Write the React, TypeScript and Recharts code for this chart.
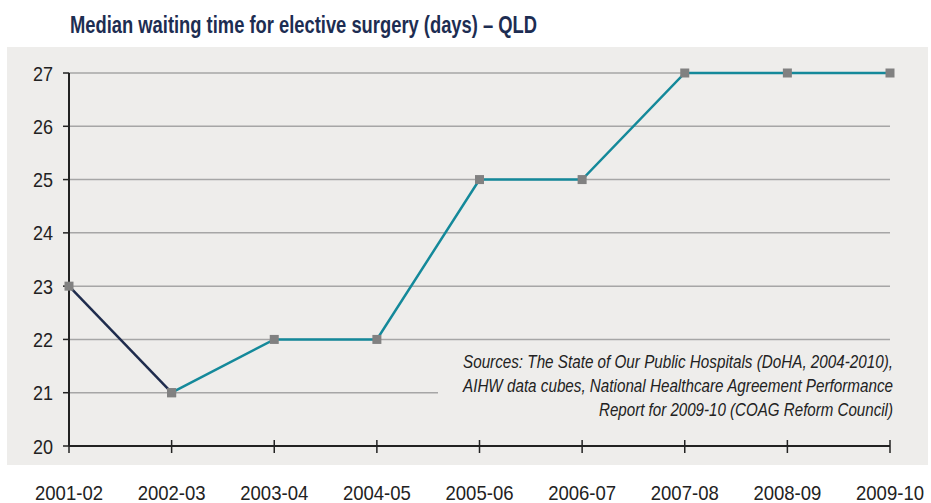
import { LineChart, Line, XAxis, YAxis, CartesianGrid } from 'recharts'

const YEARS = ['2001-02', '2002-03', '2003-04', '2004-05', '2005-06', '2006-07', '2007-08', '2008-09', '2009-10']
const MEDIAN_DAYS = [23, 21, 22, 22, 25, 25, 27, 27, 27]
// the first segment (falling part) is drawn navy, the rest teal
const NAVY_LAST_INDEX = 1
const Y_TICKS = [20, 21, 22, 23, 24, 25, 26, 27]
const TITLE = 'Median waiting time for elective surgery (days) \u2013 QLD'
const SOURCE_LINES = [
  'Sources: The State of Our Public Hospitals (DoHA, 2004-2010),',
  'AIHW data cubes, National Healthcare Agreement Performance',
  'Report for 2009-10 (COAG Reform Council)',
]

const data = YEARS.map((year, i) => ({
  year,
  early: i <= NAVY_LAST_INDEX ? MEDIAN_DAYS[i] : null,
  later: i >= NAVY_LAST_INDEX ? MEDIAN_DAYS[i] : null,
}))

const AXIS = '#222222'
const BG = '#eeedeb'
const FONT = '"Liberation Sans", Arial, sans-serif'

function SquareDot({ cx, cy, index }: any) {
  if (cx == null || cy == null) return <g key={index} />
  return <rect key={index} x={cx - 4.5} y={cy - 4.5} width={9} height={9} fill="#818181" />
}

function YearTick({ x, y, payload, index }: any) {
  return (
    <g>
      <line x1={x} x2={x} y1={index === 0 ? y : y - 6} y2={y + 7} stroke={AXIS} strokeWidth={1.5} />
      <text
        x={x} y={y + 54} textAnchor="middle" fill={AXIS} fontSize={21} fontFamily={FONT}
        textLength={68} lengthAdjust="spacingAndGlyphs"
      >
        {payload.value}
      </text>
    </g>
  )
}

function DayTick({ x, y, payload }: any) {
  return (
    <text
      x={x - 1} y={y + 7.5} textAnchor="end" fill={AXIS} fontSize={21} fontFamily={FONT}
      textLength={20} lengthAdjust="spacingAndGlyphs"
    >
      {payload.value}
    </text>
  )
}

// widths of the source lines in the original layout
const SOURCE_WIDTHS = [430, 430, 294]

export default function App() {
  return (
    <div style={{ position: 'absolute', left: 0, top: 0, width: 931, height: 503, background: '#fff' }}>
      <div style={{ position: 'absolute', left: 7, top: 47, width: 921, height: 418, background: BG }} />
      <div style={{ position: 'absolute', left: 0, top: 0 }}>
        <LineChart width={931} height={503} data={data} margin={{ top: 73, right: 41, bottom: 0, left: 9 }}>
          <CartesianGrid vertical={false} stroke="#a6a6a6" strokeWidth={1.5} />
          <XAxis
            dataKey="year"
            interval={0}
            height={57}
            tickSize={0}
            tickMargin={0}
            tickLine={false}
            axisLine={{ stroke: AXIS, strokeWidth: 2 }}
            tick={<YearTick />}
          />
          <YAxis
            domain={[20, 27]}
            ticks={Y_TICKS}
            interval={0}
            width={60}
            tickSize={6}
            tickMargin={9}
            axisLine={{ stroke: AXIS, strokeWidth: 2 }}
            tickLine={{ stroke: AXIS, strokeWidth: 1.5 }}
            tick={<DayTick />}
          />
          <Line
            dataKey="early"
            stroke="#1f2c4d"
            strokeWidth={2.5}
            dot={<SquareDot />}
            activeDot={false}
            connectNulls={false}
            isAnimationActive={false}
          />
          <Line
            dataKey="later"
            stroke="#14899a"
            strokeWidth={2.5}
            dot={<SquareDot />}
            activeDot={false}
            connectNulls={false}
            isAnimationActive={false}
          />
        </LineChart>
      </div>
      <svg width={931} height={503} style={{ position: 'absolute', left: 0, top: 0, pointerEvents: 'none' }}>
        <text
          x={70} y={33} fill="#1d2d52" fontSize={24} fontWeight={700} fontFamily={FONT}
          textLength={467} lengthAdjust="spacingAndGlyphs"
        >
          {TITLE}
        </text>
        <rect x={438} y={347} width={467} height={80} fill={BG} />
        {SOURCE_LINES.map((line, i) => (
          <text
            key={line}
            x={893} y={368 + i * 24} textAnchor="end" fill={AXIS} fontSize={18} fontStyle="italic"
            fontFamily={FONT} textLength={SOURCE_WIDTHS[i]} lengthAdjust="spacingAndGlyphs"
          >
            {line}
          </text>
        ))}
      </svg>
    </div>
  )
}
